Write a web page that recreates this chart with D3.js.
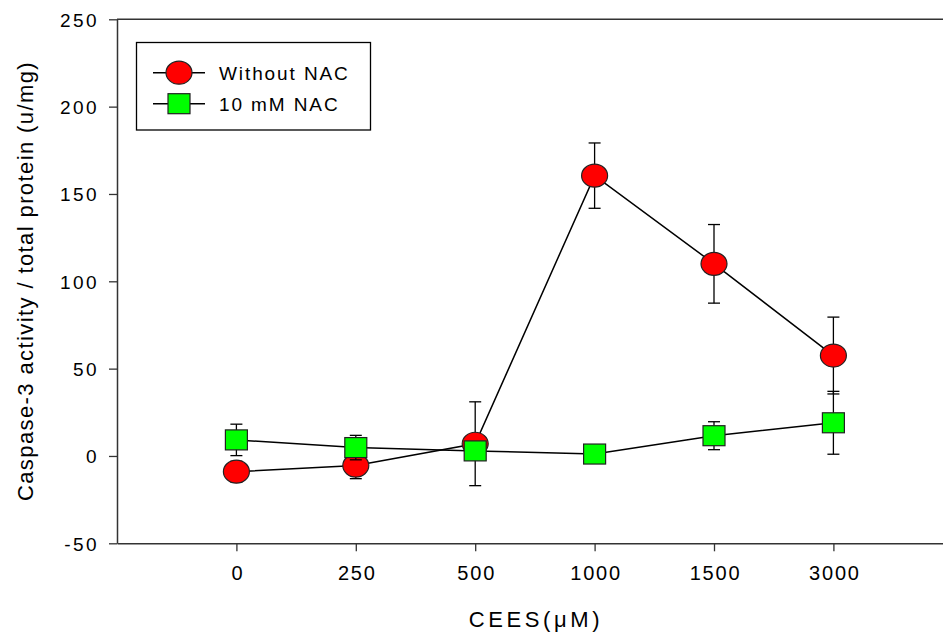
<!DOCTYPE html>
<html>
<head>
<meta charset="utf-8">
<script src="https://cdn.jsdelivr.net/npm/d3@7"></script>
<style>
  html, body { margin: 0; padding: 0; background: #fff; }
  svg { display: block; }
  text { font-family: "Liberation Sans", Arial, sans-serif; fill: #000; }
</style>
</head>
<body>
<svg id="chart" width="943" height="632"></svg>
<script>
// ---- data ----
const categories = ["0", "250", "500", "1000", "1500", "3000"];
const withoutNAC = [-9, -5.5, 7, 160.5, 110, 57.5];
const withoutNACErr = [6, 7.5, 24, 18.7, 22.5, 22];
const withNAC = [9.2, 4.8, 2.9, 1.1, 11.6, 19];
const withNACErr = [9, 7, 1, 0.5, 8, 18];
const yTicks = [-50, 0, 50, 100, 150, 200, 250];
const seriesNames = ["Without NAC", "10 mM NAC"];
const xTitle = "CEES(\u03BCM)";
const yTitle = "Caspase-3 activity / total protein (u/mg)";

// ---- layout ----
const svg = d3.select("#chart");
const x = d3.scaleLinear().domain([-1, 6]).range([117, 117 + 7 * 119.4]);
const y = d3.scaleLinear().domain([-50, 250]).range([543.3, 19.3]);

// top frame line
svg.append("line")
  .attr("x1", 117).attr("x2", 943).attr("y1", y(250)).attr("y2", y(250))
  .attr("stroke", "#333").attr("stroke-width", 1.5);

// y axis
const yAxis = svg.append("g").attr("transform", "translate(117,0)")
  .call(d3.axisLeft(y).tickValues(yTicks).tickSize(8).tickSizeOuter(0).tickPadding(10).tickFormat(d => String(d)));
yAxis.select(".domain").attr("stroke", "#333").attr("stroke-width", 1.5);
yAxis.selectAll(".tick line").attr("stroke", "#333").attr("stroke-width", 1.3);
yAxis.selectAll(".tick text").attr("font-size", 19).style("font-family", "Liberation Sans, Arial, sans-serif")
  .attr("fill", "#000").attr("letter-spacing", 2.4).attr("dy", "0.36em");

// x axis
const xAxis = svg.append("g").attr("transform", `translate(0,${y(-50)})`)
  .call(d3.axisBottom(x).tickValues(d3.range(categories.length)).tickSize(8).tickSizeOuter(0).tickPadding(15)
    .tickFormat(i => categories[i]));
xAxis.select(".domain").attr("stroke", "#333").attr("stroke-width", 1.5);
xAxis.selectAll(".tick line").attr("stroke", "#333").attr("stroke-width", 1.3);
xAxis.selectAll(".tick text").attr("font-size", 20).style("font-family", "Liberation Sans, Arial, sans-serif")
  .attr("fill", "#000").attr("letter-spacing", 1.8).attr("dx", "1");

// axis titles
svg.append("text").attr("x", 536).attr("y", 627).attr("text-anchor", "middle")
  .attr("font-size", 22).attr("letter-spacing", 3.6).text(xTitle);
svg.append("text").attr("transform", "translate(33,281) rotate(-90)").attr("text-anchor", "middle")
  .attr("font-size", 22).attr("letter-spacing", 1.4).text(yTitle);

// ---- series ----
const line = d3.line().x((d, i) => x(i)).y(d => y(d));

function drawSeries(vals, errs, shape, fill) {
  const g = svg.append("g");
  g.append("path").datum(vals).attr("d", line).attr("fill", "none")
    .attr("stroke", "#000").attr("stroke-width", 1.5);
  const eb = g.append("g").selectAll("g").data(vals).join("g");
  eb.append("line").attr("x1", (d, i) => x(i)).attr("x2", (d, i) => x(i))
    .attr("y1", (d, i) => y(d + errs[i])).attr("y2", (d, i) => y(d - errs[i]))
    .attr("stroke", "#000").attr("stroke-width", 1.3);
  [1, -1].forEach(s => {
    eb.append("line").attr("x1", (d, i) => x(i) - 6).attr("x2", (d, i) => x(i) + 6)
      .attr("y1", (d, i) => y(d + s * errs[i])).attr("y2", (d, i) => y(d + s * errs[i]))
      .attr("stroke", "#000").attr("stroke-width", 1.3);
  });
  const m = g.append("g").selectAll(shape === "circle" ? "ellipse" : "rect").data(vals).join(shape === "circle" ? "ellipse" : "rect");
  if (shape === "circle") {
    m.attr("cx", (d, i) => x(i)).attr("cy", d => y(d)).attr("rx", 13).attr("ry", 11.5);
  } else {
    m.attr("x", (d, i) => x(i) - 11).attr("y", d => y(d) - 10).attr("width", 22).attr("height", 20);
  }
  m.attr("fill", fill).attr("stroke", "#222").attr("stroke-width", 1.2);
}
drawSeries(withoutNAC, withoutNACErr, "circle", "#ff0000");
drawSeries(withNAC, withNACErr, "square", "#00ff00");

// ---- legend ----
const lg = svg.append("g");
lg.append("rect").attr("x", 136.5).attr("y", 42.5).attr("width", 234).attr("height", 87.5)
  .attr("fill", "#fff").attr("stroke", "#000").attr("stroke-width", 1.3);
const legendY = [72.7, 103.7];
const fills = ["#ff0000", "#00ff00"];
seriesNames.forEach((name, k) => {
  lg.append("line").attr("x1", 153).attr("x2", 205).attr("y1", legendY[k]).attr("y2", legendY[k])
    .attr("stroke", "#000").attr("stroke-width", 1.5);
  if (k === 0) {
    lg.append("ellipse").attr("cx", 179).attr("cy", legendY[k]).attr("rx", 13).attr("ry", 11.5)
      .attr("fill", fills[k]).attr("stroke", "#222").attr("stroke-width", 1.2);
  } else {
    lg.append("rect").attr("x", 168).attr("y", legendY[k] - 10).attr("width", 22).attr("height", 20)
      .attr("fill", fills[k]).attr("stroke", "#222").attr("stroke-width", 1.2);
  }
  lg.append("text").attr("x", 219).attr("y", legendY[k] + 7).attr("font-size", 19)
    .attr("letter-spacing", 1.9).text(name);
});
</script>
</body>
</html>
